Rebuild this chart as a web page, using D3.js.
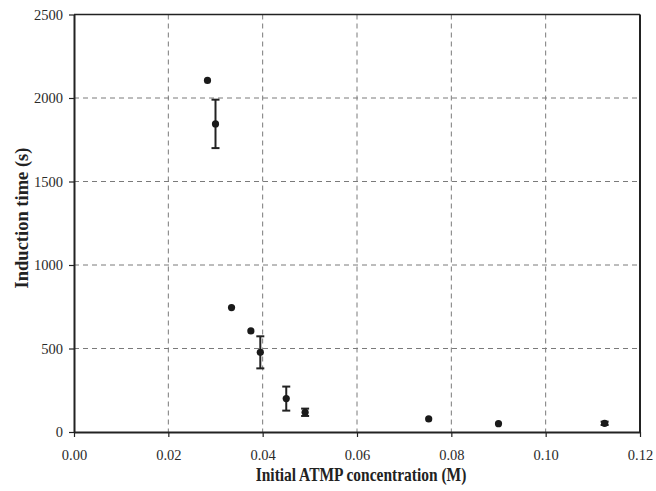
<!DOCTYPE html>
<html>
<head>
<meta charset="utf-8">
<script src="https://cdn.jsdelivr.net/npm/d3@7"></script>
<style>
  body { margin: 0; background: #fff; }
  svg { display: block; }
</style>
</head>
<body>
<div id="chart"></div>
<script>
// values
const concentration = [0.0283, 0.0300, 0.0334, 0.0375, 0.0395, 0.0450, 0.0490, 0.0752, 0.0900, 0.1125];
const inductionTime = [2105, 1845, 745, 605, 477, 200, 118, 78, 50, 52];
const errorBar = [0, 145, 0, 0, 96, 72, 22, 0, 0, 10];
const xTicks = [0, 0.02, 0.04, 0.06, 0.08, 0.10, 0.12];
const yTicks = [0, 500, 1000, 1500, 2000, 2500];

const pageWidth = 656;
const pageHeight = 491;
const plotLeft = 74, plotRight = 640, plotTop = 14.5, plotBottom = 432;
const font = "'Liberation Serif', 'Times New Roman', serif";

const svg = d3.select('#chart')
    .append('svg')
    .attr('width', pageWidth)
    .attr('height', pageHeight);

const x = d3.scaleLinear().domain([0, 0.12]).range([plotLeft, plotRight]);
const y = d3.scaleLinear().domain([0, 2500]).range([plotBottom, plotTop]);

// grid
svg.append('g').selectAll('line')
    .data(xTicks.slice(1, -1))
    .join('line')
    .attr('x1', d => x(d)).attr('x2', d => x(d))
    .attr('y1', plotTop).attr('y2', plotBottom)
    .attr('stroke', '#7a7a7a').attr('stroke-width', 1)
    .attr('stroke-dasharray', '5,4');

svg.append('g').selectAll('line')
    .data(yTicks.slice(1, -1))
    .join('line')
    .attr('x1', plotLeft).attr('x2', plotRight)
    .attr('y1', d => y(d)).attr('y2', d => y(d))
    .attr('stroke', '#7a7a7a').attr('stroke-width', 1)
    .attr('stroke-dasharray', '5,4');

// axes
const xAxis = svg.append('g')
    .attr('transform', 'translate(0,' + plotBottom + ')')
    .call(d3.axisBottom(x).tickValues(xTicks).tickFormat(d3.format('.2f')).tickSize(5).tickPadding(13).tickSizeOuter(0));

const yAxis = svg.append('g')
    .attr('transform', 'translate(' + plotLeft + ',0)')
    .call(d3.axisLeft(y).tickValues(yTicks).tickFormat(d => d).tickSize(5).tickPadding(6).tickSizeOuter(0));

[xAxis, yAxis].forEach(g => {
    g.select('.domain').attr('stroke', '#222').attr('stroke-width', 2);
    g.selectAll('.tick line').attr('stroke', '#222').attr('stroke-width', 1.2);
    g.selectAll('.tick text')
        .attr('font-family', font)
        .attr('font-size', 14.5)
        .attr('fill', '#2a2a2a');
});

// frame top and right
svg.append('line')
    .attr('x1', plotLeft).attr('x2', plotRight).attr('y1', plotTop).attr('y2', plotTop)
    .attr('stroke', '#222').attr('stroke-width', 1.5);
svg.append('line')
    .attr('x1', plotRight).attr('x2', plotRight).attr('y1', plotTop).attr('y2', plotBottom)
    .attr('stroke', '#222').attr('stroke-width', 2);

// error bars
const data = concentration.map((c, i) => ({c: c, t: inductionTime[i], e: errorBar[i]}));
const bars = svg.append('g').selectAll('g')
    .data(data.filter(d => d.e > 0))
    .join('g')
    .attr('stroke', '#222').attr('stroke-width', 2);

bars.append('line')
    .attr('x1', d => x(d.c)).attr('x2', d => x(d.c))
    .attr('y1', d => y(d.t - d.e)).attr('y2', d => y(d.t + d.e));
bars.append('line')
    .attr('x1', d => x(d.c) - 4).attr('x2', d => x(d.c) + 4)
    .attr('y1', d => y(d.t - d.e)).attr('y2', d => y(d.t - d.e));
bars.append('line')
    .attr('x1', d => x(d.c) - 4).attr('x2', d => x(d.c) + 4)
    .attr('y1', d => y(d.t + d.e)).attr('y2', d => y(d.t + d.e));

// points
svg.append('g').selectAll('circle')
    .data(data)
    .join('circle')
    .attr('cx', d => x(d.c))
    .attr('cy', d => y(d.t))
    .attr('r', 3.6)
    .attr('fill', '#1a1a1a');

// axis labels
svg.append('text')
    .attr('transform', 'translate(' + ((plotLeft + plotRight) / 2 + 4) + ',481) scale(0.86,1)')
    .attr('text-anchor', 'middle')
    .attr('font-family', font)
    .attr('font-weight', 'bold')
    .attr('font-size', 18)
    .attr('fill', '#222')
    .text('Initial ATMP concentration (M)');

svg.append('text')
    .attr('transform', 'translate(28,218) rotate(-90)')
    .attr('text-anchor', 'middle')
    .attr('font-family', font)
    .attr('font-weight', 'bold')
    .attr('font-size', 18.5)
    .attr('fill', '#222')
    .text('Induction time (s)');
</script>
</body>
</html>
